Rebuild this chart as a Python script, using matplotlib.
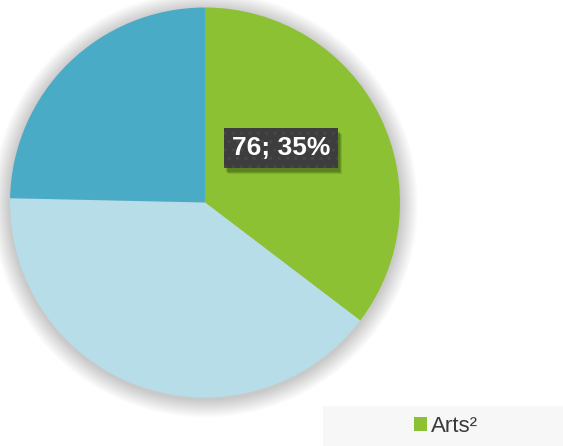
import matplotlib.pyplot as plt
from matplotlib.patches import Circle, Rectangle

plt.rcParams['font.family'] = ['Liberation Sans', 'DejaVu Sans']
plt.rcParams['hatch.linewidth'] = 1.2

# data
categories = ['Arts²', 'Sciences', 'Autres']
valeurs = [76, 86, 53]
couleurs = ['#8bc132', '#b7dde8', '#4aabc6']

W, H = 563, 446
fig = plt.figure(figsize=(W / 100, H / 100), dpi=100)
ax = fig.add_axes([0, 0, 1, 1])

cx, cy, r = 205, H - 202.5, 195

# ombre floue autour du camembert
for k in range(18, 0, -1):
    ax.add_patch(Circle((cx, cy - 2), r + k, color='black', alpha=0.011, lw=0, zorder=0))

wedges, _ = ax.pie(valeurs, colors=couleurs, startangle=90, counterclock=False,
                   center=(cx, cy), radius=r, wedgeprops=dict(linewidth=0))
for w in wedges:
    w.set_zorder(2)

# pie() change les limites, on les remet en pixels
ax.set_xlim(0, W)
ax.set_ylim(0, H)
ax.set_aspect('equal')
ax.axis('off')

# étiquette de la première part
total = sum(valeurs)
texte = f'{valeurs[0]}; {round(100 * valeurs[0] / total)}%'
lx, ly = 281, H - 148
etiquette = ax.text(lx, ly, texte, fontsize=19, fontweight='bold', color='white',
                    ha='center', va='center', zorder=4,
                    bbox=dict(boxstyle='square,pad=0.3', facecolor='#3d3d3d',
                              edgecolor='#474747', hatch='..', linewidth=0))

# ombre de l'étiquette (rectangles sous la boîte)
fig.canvas.draw()
bb = etiquette.get_bbox_patch().get_window_extent()
for dx, dy, a in [(4, -6, 0.10), (3, -5, 0.12), (2, -4, 0.15)]:
    ax.add_patch(Rectangle((bb.x0 + dx, bb.y0 + dy), bb.width, bb.height,
                           facecolor='black', alpha=a, lw=0, zorder=3))

# légende
ax.add_patch(Rectangle((323, 0), W - 323, 40, facecolor='#f7f7f7', lw=0, zorder=1))
leg = ax.legend([wedges[0]], [categories[0]], loc='center',
                bbox_to_anchor=(446 / W, 20 / H), bbox_transform=fig.transFigure,
                frameon=False, fontsize=16, handlelength=0.6, handleheight=0.6,
                handletextpad=0.2, labelcolor='#3a3a3a')

fig.savefig('out.png', dpi=100)
